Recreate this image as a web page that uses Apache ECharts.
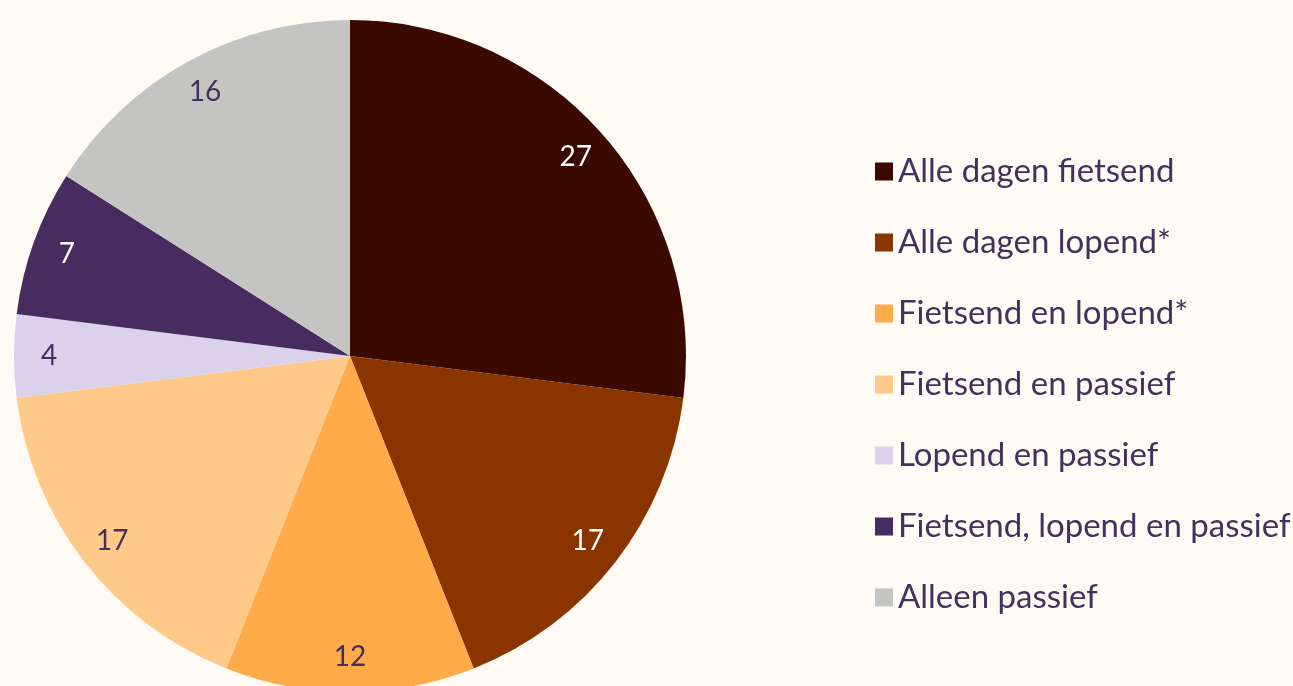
<!DOCTYPE html>
<html>
<head>
    <meta charset="utf-8">
    <title>Pie</title>
    <script src="https://cdn.jsdelivr.net/npm/echarts@6/dist/echarts.min.js"></script>
    <style>
        html, body { margin: 0; padding: 0; background: #fffaf4; }
        #main { width: 1293px; height: 686px; }
    </style>
</head>
<body>
<div id="main"></div>
<script>
    // data
    const categories = [
        'Alle dagen fietsend',
        'Alle dagen lopend*',
        'Fietsend en lopend*',
        'Fietsend en passief',
        'Lopend en passief',
        'Fietsend, lopend en passief',
        'Alleen passief'
    ];
    const values = [27, 17, 12, 17, 4, 7, 16];
    const colors = ['#3a0a00', '#8a3400', '#ffab4a', '#ffc98a', '#dbd1ea', '#472c5f', '#c4c4c2'];
    const labelColors = ['#ffffff', '#ffffff', '#44305c', '#44305c', '#44305c', '#ffffff', '#44305c'];

    const chart = echarts.init(document.getElementById('main'));

    const pieData = categories.map((name, i) => ({
        name: name,
        value: values[i],
        itemStyle: { color: colors[i] }
    }));
    // transparent ring only used to place the labels near the rim
    const labelData = categories.map((name, i) => ({
        name: name,
        value: values[i],
        itemStyle: { color: 'rgba(0,0,0,0)' },
        label: { color: labelColors[i] }
    }));

    chart.setOption({
        backgroundColor: '#fffaf4',
        animation: false,
        legend: {
            orient: 'vertical',
            left: 870,
            top: 150,
            itemWidth: 18,
            itemHeight: 18,
            itemGap: 38,
            icon: 'rect',
            data: categories,
            textStyle: {
                fontFamily: 'Lato',
                fontSize: 33,
                lineHeight: 33,
                color: '#44305c'
            }
        },
        series: [
            {
                type: 'pie',
                center: [350, 356],
                radius: [0, 336],
                startAngle: 90,
                clockwise: true,
                silent: true,
                label: { show: false },
                labelLine: { show: false },
                itemStyle: { borderWidth: 0 },
                data: pieData
            },
            {
                type: 'pie',
                center: [350, 356],
                radius: [260, 336],
                startAngle: 90,
                clockwise: true,
                silent: true,
                legendHoverLink: false,
                label: {
                    show: true,
                    position: 'inside',
                    formatter: '{c}',
                    fontFamily: 'Lato',
                    fontSize: 28
                },
                labelLine: { show: false },
                itemStyle: { borderWidth: 0 },
                data: labelData
            }
        ]
    });
</script>
</body>
</html>
